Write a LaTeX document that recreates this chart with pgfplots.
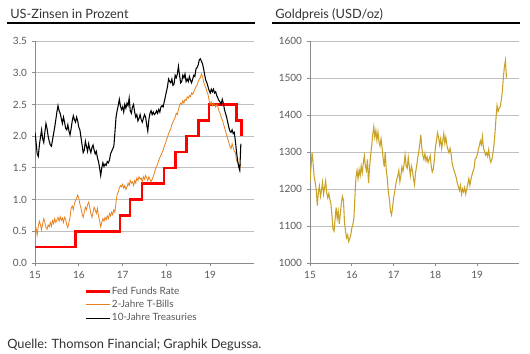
\documentclass[border=0pt]{standalone}
\usepackage{fontspec}
\setmainfont{Lato}
\usepackage{pgfplots}
\usepackage{pgfplotstable}
\pgfplotsset{compat=1.18}
\definecolor{gridgray}{HTML}{BFBFBF}
\definecolor{axgray}{HTML}{8C8C8C}
\definecolor{txtgray}{HTML}{595959}
\definecolor{titlegray}{HTML}{333333}
\definecolor{fedred}{HTML}{FF0000}
\definecolor{tbill}{HTML}{E8801E}
\definecolor{goldc}{HTML}{C9A227}

\pgfplotstableread{
x y
15.00 0.25
15.93 0.50
16.94 0.75
17.17 1.00
17.44 1.25
17.95 1.50
18.21 1.75
18.46 2.00
18.73 2.25
18.97 2.50
19.60 2.25
19.72 2.00
}\fedtab

\pgfplotstableread{
x y
15.000 0.63
15.025 0.55
15.050 0.44
15.075 0.58
15.100 0.66
15.125 0.60
15.150 0.52
15.175 0.62
15.200 0.70
15.225 0.64
15.250 0.56
15.275 0.53
15.300 0.60
15.325 0.57
15.350 0.64
15.375 0.58
15.400 0.67
15.425 0.62
15.450 0.70
15.475 0.64
15.500 0.68
15.525 0.72
15.550 0.66
15.575 0.73
15.600 0.67
15.625 0.71
15.650 0.64
15.675 0.72
15.700 0.69
15.725 0.60
15.750 0.56
15.775 0.64
15.800 0.72
15.825 0.86
15.850 0.90
15.875 0.84
15.900 0.94
15.925 0.98
15.950 1.02
15.975 1.07
16.000 1.02
16.025 0.93
16.050 0.86
16.075 0.78
16.100 0.72
16.125 0.80
16.150 0.88
16.175 0.84
16.200 0.92
16.225 0.96
16.250 0.88
16.275 0.78
16.300 0.72
16.325 0.80
16.350 0.88
16.375 0.84
16.400 0.78
16.425 0.86
16.450 0.74
16.475 0.66
16.500 0.57
16.525 0.64
16.550 0.70
16.575 0.66
16.600 0.72
16.625 0.68
16.650 0.74
16.675 0.70
16.700 0.78
16.725 0.74
16.750 0.80
16.775 0.76
16.800 0.84
16.825 0.80
16.850 0.96
16.875 1.08
16.900 1.12
16.925 1.18
16.950 1.22
16.975 1.20
17.000 1.24
17.025 1.18
17.050 1.22
17.075 1.16
17.100 1.20
17.125 1.26
17.150 1.22
17.175 1.30
17.200 1.26
17.225 1.28
17.250 1.22
17.275 1.30
17.300 1.26
17.325 1.34
17.350 1.30
17.375 1.36
17.400 1.32
17.425 1.34
17.450 1.28
17.475 1.36
17.500 1.32
17.525 1.38
17.550 1.34
17.575 1.30
17.600 1.36
17.625 1.32
17.650 1.28
17.675 1.32
17.700 1.36
17.725 1.42
17.750 1.48
17.775 1.52
17.800 1.56
17.825 1.62
17.850 1.66
17.875 1.70
17.900 1.74
17.925 1.78
17.950 1.84
17.975 1.88
18.000 1.94
18.025 1.98
18.050 2.04
18.075 2.08
18.100 2.12
18.125 2.18
18.150 2.22
18.175 2.26
18.200 2.30
18.225 2.36
18.250 2.34
18.275 2.42
18.300 2.48
18.325 2.52
18.350 2.50
18.375 2.56
18.400 2.52
18.425 2.58
18.450 2.56
18.475 2.62
18.500 2.60
18.525 2.64
18.550 2.62
18.575 2.68
18.600 2.66
18.625 2.70
18.650 2.74
18.675 2.78
18.700 2.80
18.725 2.86
18.750 2.90
18.775 2.92
18.800 2.98
18.825 2.94
18.850 2.86
18.875 2.80
18.900 2.76
18.925 2.70
18.950 2.66
18.975 2.56
19.000 2.50
19.025 2.54
19.050 2.48
19.075 2.52
19.100 2.50
19.125 2.46
19.150 2.50
19.175 2.46
19.200 2.40
19.225 2.36
19.250 2.30
19.275 2.26
19.300 2.20
19.325 2.14
19.350 2.08
19.375 2.02
19.400 1.96
19.425 1.90
19.450 1.84
19.475 1.80
19.500 1.88
19.525 1.82
19.550 1.76
19.575 1.74
19.600 1.62
19.625 1.58
19.650 1.54
19.675 1.50
19.700 1.56
}\tbtab

\pgfplotstableread{
x y
15.000 2.06
15.025 1.90
15.050 1.72
15.075 1.68
15.100 1.86
15.125 1.98
15.150 2.10
15.175 1.96
15.200 1.90
15.225 2.06
15.250 2.20
15.275 2.12
15.300 2.00
15.325 1.92
15.350 1.86
15.375 1.84
15.400 1.94
15.425 2.04
15.450 2.14
15.475 2.26
15.500 2.38
15.525 2.48
15.550 2.40
15.575 2.36
15.600 2.28
15.625 2.20
15.650 2.30
15.675 2.22
15.700 2.12
15.725 2.10
15.750 2.18
15.775 2.08
15.800 2.02
15.825 2.12
15.850 2.24
15.875 2.32
15.900 2.26
15.925 2.22
15.950 2.30
15.975 2.24
16.000 2.14
16.025 2.10
16.050 1.98
16.075 1.86
16.100 1.74
16.125 1.78
16.150 1.92
16.175 1.84
16.200 1.76
16.225 1.88
16.250 1.80
16.275 1.74
16.300 1.82
16.325 1.86
16.350 1.78
16.375 1.72
16.400 1.76
16.425 1.66
16.450 1.60
16.475 1.50
16.500 1.38
16.525 1.50
16.550 1.58
16.575 1.52
16.600 1.56
16.625 1.54
16.650 1.60
16.675 1.58
16.700 1.62
16.725 1.72
16.750 1.76
16.775 1.80
16.800 1.84
16.825 2.06
16.850 2.30
16.875 2.40
16.900 2.48
16.925 2.58
16.950 2.48
16.975 2.42
17.000 2.46
17.025 2.38
17.050 2.50
17.075 2.44
17.100 2.52
17.125 2.48
17.150 2.60
17.175 2.40
17.200 2.36
17.225 2.46
17.250 2.50
17.275 2.38
17.300 2.30
17.325 2.34
17.350 2.24
17.375 2.28
17.400 2.34
17.425 2.26
17.450 2.22
17.475 2.28
17.500 2.34
17.525 2.30
17.550 2.18
17.575 2.08
17.600 2.26
17.625 2.36
17.650 2.40
17.675 2.34
17.700 2.38
17.725 2.34
17.750 2.36
17.775 2.40
17.800 2.36
17.825 2.42
17.850 2.38
17.875 2.46
17.900 2.48
17.925 2.46
17.950 2.54
17.975 2.62
18.000 2.70
18.025 2.78
18.050 2.90
18.075 2.86
18.100 2.84
18.125 2.90
18.150 2.80
18.175 2.82
18.200 2.96
18.225 2.92
18.250 2.98
18.275 3.10
18.300 2.96
18.325 2.84
18.350 2.86
18.375 2.96
18.400 2.92
18.425 2.98
18.450 2.86
18.475 2.90
18.500 2.86
18.525 2.94
18.550 2.88
18.575 2.84
18.600 2.90
18.625 2.96
18.650 2.94
18.675 3.06
18.700 3.08
18.725 3.12
18.750 3.20
18.775 3.22
18.800 3.18
18.825 3.14
18.850 3.06
18.875 2.96
18.900 2.88
18.925 2.84
18.950 2.78
18.975 2.72
19.000 2.68
19.025 2.74
19.050 2.70
19.075 2.74
19.100 2.68
19.125 2.70
19.150 2.64
19.175 2.60
19.200 2.56
19.225 2.54
19.250 2.50
19.275 2.58
19.300 2.52
19.325 2.42
19.350 2.36
19.375 2.30
19.400 2.22
19.425 2.14
19.450 2.08
19.475 2.06
19.500 2.10
19.525 2.04
19.550 2.06
19.575 1.92
19.600 1.76
19.625 1.62
19.650 1.52
19.675 1.46
19.700 1.88
}\tentab

\pgfplotstableread{
x y
15.000 1220
15.025 1262
15.050 1298
15.075 1268
15.100 1232
15.125 1218
15.150 1196
15.175 1155
15.200 1192
15.225 1208
15.250 1180
15.275 1196
15.300 1218
15.325 1186
15.350 1204
15.375 1222
15.400 1190
15.425 1176
15.450 1188
15.475 1172
15.500 1160
15.525 1130
15.550 1092
15.575 1086
15.600 1118
15.625 1150
15.650 1120
15.675 1140
15.700 1106
15.725 1132
15.750 1162
15.775 1180
15.800 1170
15.825 1110
15.850 1086
15.875 1068
15.900 1076
15.925 1058
15.950 1066
15.975 1076
16.000 1094
16.025 1104
16.050 1120
16.075 1180
16.100 1232
16.125 1250
16.150 1228
16.175 1252
16.200 1236
16.225 1262
16.250 1244
16.275 1270
16.300 1290
16.325 1262
16.350 1250
16.375 1280
16.400 1216
16.425 1258
16.450 1290
16.475 1316
16.500 1346
16.525 1368
16.550 1340
16.575 1358
16.600 1332
16.625 1354
16.650 1328
16.675 1316
16.700 1336
16.725 1312
16.750 1282
16.775 1260
16.800 1300
16.825 1250
16.850 1228
16.875 1190
16.900 1172
16.925 1140
16.950 1130
16.975 1150
17.000 1176
17.025 1192
17.050 1210
17.075 1226
17.100 1236
17.125 1250
17.150 1220
17.175 1236
17.200 1260
17.225 1248
17.250 1266
17.275 1292
17.300 1262
17.325 1256
17.350 1286
17.375 1260
17.400 1236
17.425 1262
17.450 1250
17.475 1228
17.500 1212
17.525 1244
17.550 1262
17.575 1282
17.600 1300
17.625 1320
17.650 1346
17.675 1312
17.700 1290
17.725 1280
17.750 1296
17.775 1276
17.800 1286
17.825 1272
17.850 1280
17.875 1290
17.900 1262
17.925 1246
17.950 1254
17.975 1280
18.000 1312
18.025 1330
18.050 1352
18.075 1340
18.100 1320
18.125 1336
18.150 1310
18.175 1330
18.200 1350
18.225 1324
18.250 1340
18.275 1318
18.300 1306
18.325 1298
18.350 1310
18.375 1296
18.400 1270
18.425 1258
18.450 1248
18.475 1240
18.500 1230
18.525 1216
18.550 1206
18.575 1196
18.600 1210
18.625 1186
18.650 1200
18.675 1192
18.700 1204
18.725 1186
18.750 1200
18.775 1214
18.800 1228
18.825 1210
18.850 1226
18.875 1238
18.900 1248
18.925 1256
18.950 1280
18.975 1284
19.000 1292
19.025 1306
19.050 1316
19.075 1330
19.100 1320
19.125 1342
19.150 1310
19.175 1302
19.200 1292
19.225 1298
19.250 1288
19.275 1306
19.300 1284
19.325 1272
19.350 1280
19.375 1296
19.400 1318
19.425 1350
19.450 1392
19.475 1426
19.500 1410
19.525 1418
19.550 1422
19.575 1440
19.600 1462
19.625 1500
19.650 1530
19.675 1548
19.700 1500
}\goldtab

\pgfplotsset{panel/.style={
  scale only axis,
  height=166.5pt,
  axis lines=left,
  axis line style={axgray, line width=0.6pt, -},
  tick align=outside,
  major tick length=2.5pt,
  tick style={axgray, line width=0.6pt},
  ymajorgrids,
  grid style={gridgray, line width=0.6pt},
  xmin=15, xmax=20,
  xtick={15,16,17,18,19},
  tick label style={font=\fontsize{7.5}{9}\selectfont, text=txtgray},
  /pgf/number format/assume math mode=true,
  /pgf/number format/1000 sep={},
}}

\begin{document}
\begin{tikzpicture}
\path (0,0) rectangle (397.5pt,264.75pt);
% titles
\node[anchor=base west, inner sep=0pt, text=titlegray, font=\fontsize{9.6}{11}\selectfont] at (7.5pt,251pt) {US-Zinsen in Prozent};
\draw[black, line width=1.5pt] (5.25pt,247.5pt) -- (191.25pt,247.5pt);
\node[anchor=base west, inner sep=0pt, text=titlegray, font=\fontsize{9.6}{11}\selectfont] at (206.25pt,251pt) {Goldpreis (USD/oz)};
\draw[black, line width=1.5pt] (204pt,247.5pt) -- (390pt,247.5pt);
\node[anchor=base west, inner sep=0pt, text=titlegray, font=\fontsize{9.6}{11}\selectfont] at (5.25pt,3.75pt) {Quelle: Thomson Financial; Graphik Degussa.};

\begin{axis}[panel,
  at={(26.25pt,67.5pt)}, anchor=south west,
  width=164.25pt,
  ymin=0, ymax=3.5,
  ytick={0,0.5,...,3.5},
  yticklabel style={/pgf/number format/.cd, fixed, fixed zerofill, precision=1},
  legend style={at={(axis description cs:0.226,-0.097)}, anchor=north west,
    draw=none, fill=none, inner sep=0pt, row sep=0pt,
    font=\fontsize{7.5}{9}\selectfont, text=txtgray,
    nodes={inner xsep=0.5pt, inner ysep=1.5pt, text height=5.5pt, text depth=1.5pt}},
  legend cell align=left,
  legend image code/.code={\draw[#1] (0pt,0pt) -- (18pt,0pt);},
]
\addplot[const plot, fedred, line width=1.9pt] table[x=x,y=y] {\fedtab};
\addlegendentry{Fed Funds Rate}
\addplot[tbill, line width=0.6pt] table[x=x,y=y] {\tbtab};
\addlegendentry{2-Jahre T-Bills}
\addplot[black, line width=0.8pt] table[x=x,y=y] {\tentab};
\addlegendentry{10-Jahre Treasuries}
\end{axis}

\begin{axis}[panel,
  at={(232.5pt,67.5pt)}, anchor=south west,
  width=156.75pt,
  ymin=1000, ymax=1600,
  ytick={1000,1100,...,1600},
]
\addplot[goldc, line width=0.8pt] table[x=x,y=y] {\goldtab};
\end{axis}
\end{tikzpicture}
\end{document}
